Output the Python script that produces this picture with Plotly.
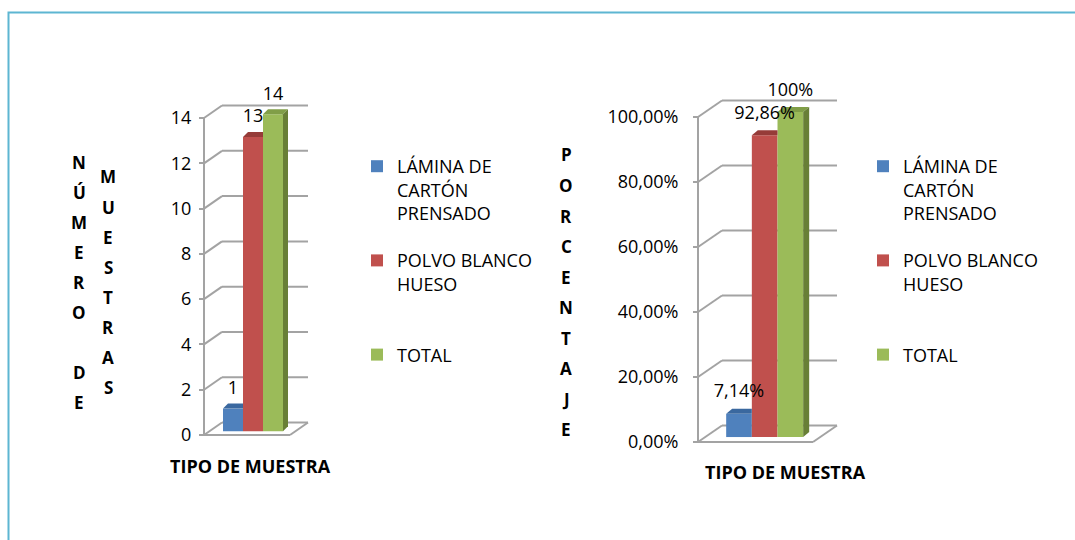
import plotly.graph_objects as go

# ---------------- data ----------------
CATEGORIES = ["LÁMINA DE CARTÓN PRENSADO", "POLVO BLANCO HUESO", "TOTAL"]
LEGEND_NAMES = ["LÁMINA DE<br>CARTÓN<br>PRENSADO", "POLVO BLANCO<br>HUESO<br> ", "TOTAL"]
COUNTS = [1, 13, 14]
PERCENTS = [0.0714, 0.9286, 1.0]
COUNT_TICKS = [0, 2, 4, 6, 8, 10, 12, 14]
PERCENT_TICKS = [0.0, 0.2, 0.4, 0.6, 0.8, 1.0]
Y_TITLE_LEFT_A = "NÚMERO DE"
Y_TITLE_LEFT_B = "MUESTRAS"
Y_TITLE_RIGHT = "PORCENTAJE"
X_TITLE = "TIPO DE MUESTRA"

# ---------------- style ----------------
W, H = 1075, 540
FONT = "Open Sans"
FRONT = ["#4F81BD", "#C0504D", "#9BBB59"]
TOP = ["#3A689F", "#963B38", "#809E47"]
SIDE = ["#35587F", "#7E302E", "#687F36"]
GRID = "#A3A3A3"

fig = go.Figure()
shapes = []
annotations = []


def px2x(p):
    return p / W


def px2y(p):
    return 1 - p / H


def build(suffix, values, ticks, legend_id, x0, sx, y0, sy, axis_px, end_px,
          depth_px, topoff_px, xdom_px, ydom_px, tickformat, texttemplate,
          lab_px, standoff):
    xa = "x" + suffix
    ya = "y" + suffix
    ddx = depth_px[0] / sx
    ddy = depth_px[1] / sy
    base = 0.3 * ddy
    tdx = topoff_px[0] / sx
    tdy = topoff_px[1] / sy
    lab = lab_px / sy
    ax = (axis_px - x0) / sx
    ex = (end_px - x0) / sx
    n = len(values)

    # 3D walls / gridlines (behind bars)
    def seg(xa0, ya0, xa1, ya1):
        shapes.append(dict(type="line", xref=xa, yref=ya, x0=xa0, y0=ya0,
                           x1=xa1, y1=ya1, layer="below",
                           line=dict(color=GRID, width=2)))
    for t in ticks:
        seg(ax, t, ax + ddx, t + ddy)
        seg(ax + ddx, t + ddy, ex + ddx, t + ddy)
    seg(ax, ticks[0], ax, ticks[-1])
    seg(ax, ticks[0], ex, ticks[0])
    seg(ex, ticks[0], ex + ddx, ticks[0] + ddy)

    # bars (front faces)
    for i, v in enumerate(values):
        fig.add_trace(go.Bar(
            x=[i], y=[v], base=[base], width=1, name=LEGEND_NAMES[i],
            marker=dict(color=FRONT[i], line=dict(width=0)),
            xaxis=xa, yaxis=ya, legend=legend_id, legendgroup=suffix + str(i),
            hovertemplate=CATEGORIES[i] + ": %{y}<extra></extra>"))

    # top and side faces
    for i, v in enumerate(values):
        top = base + v
        nxt_taller = i + 1 < n and values[i + 1] >= v
        right = i + 0.5 if nxt_taller else i + 0.5 + tdx
        fig.add_trace(go.Scatter(
            x=[i - 0.5, i - 0.5 + tdx, right, i + 0.5, i - 0.5],
            y=[top, top + tdy, top + tdy, top, top],
            fill="toself", fillcolor=TOP[i], mode="lines",
            line=dict(width=0, color=TOP[i]), showlegend=False,
            hoverinfo="skip", xaxis=xa, yaxis=ya))
        if not nxt_taller:
            fig.add_trace(go.Scatter(
                x=[i + 0.5, i + 0.5, i + 0.5 + tdx, i + 0.5 + tdx, i + 0.5],
                y=[base, top, top + tdy, base + tdy, base],
                fill="toself", fillcolor=SIDE[i], mode="lines",
                line=dict(width=0, color=SIDE[i]), showlegend=False,
                hoverinfo="skip", xaxis=xa, yaxis=ya))

    # data labels
    fig.add_trace(go.Scatter(
        x=list(range(n)), y=[base + v + tdy + lab for v in values],
        mode="text", text=[texttemplate(v) for v in values],
        textposition="top center",
        textfont=dict(family=FONT, size=18, color="#000"),
        cliponaxis=False, showlegend=False, hoverinfo="skip",
        xaxis=xa, yaxis=ya))

    xr = [(xdom_px[0] - x0) / sx, (xdom_px[1] - x0) / sx]
    yr = [(y0 - ydom_px[1]) / sy, (y0 - ydom_px[0]) / sy]
    xkey = "xaxis" + suffix
    ykey = "yaxis" + suffix
    fig.layout[xkey] = dict(domain=[px2x(xdom_px[0]), px2x(xdom_px[1])],
                            range=xr, visible=False, anchor=ya)
    fig.layout[ykey] = dict(domain=[px2y(ydom_px[1]), px2y(ydom_px[0])],
                            range=yr, anchor="free", position=px2x(axis_px),
                            tickvals=ticks, tickformat=tickformat,
                            ticks="outside", ticklen=5, tickwidth=2,
                            tickcolor=GRID, ticklabelstandoff=standoff,
                            showgrid=False, zeroline=False, showline=False,
                            tickfont=dict(family=FONT, size=18, color="#000"))


build("", COUNTS, COUNT_TICKS, "legend", 233, 20, 435, 22.64, 204, 290,
      (18, 12.5), (5, 5), (150, 345), (60, 470), "d", lambda v: f"{v}", 5, 4)
build("2", PERCENTS, PERCENT_TICKS, "legend2", 739, 25.67, 442, 325, 698, 813,
      (24, 16.5), (6, 5), (640, 870), (60, 470), ".2%",
      lambda v: (f"{v*100:.2f}".rstrip("0").rstrip(".") + "%").replace(".", ","),
      7, 11)


def letters(text, xp, ytop, step):
    for k, ch in enumerate(text):
        if ch.strip():
            annotations.append(dict(
                x=px2x(xp), y=px2y(ytop + k * step), xref="paper", yref="paper",
                text=ch, showarrow=False, xanchor="center", yanchor="middle",
                font=dict(family=FONT, size=17, color="#000", weight="bold")))


letters(Y_TITLE_LEFT_A, 79, 162, 30.1)
letters(Y_TITLE_LEFT_B, 108, 177, 30.1)
letters(Y_TITLE_RIGHT, 566, 155, 30.5)

for xc, yc in [(250, 466), (785, 472)]:
    annotations.append(dict(
        x=px2x(xc), y=px2y(yc), xref="paper", yref="paper", text=X_TITLE,
        showarrow=False, xanchor="center", yanchor="middle",
        font=dict(family=FONT, size=18, color="#000", weight="bold")))

# outer frame
shapes.append(dict(type="rect", xref="paper", yref="paper",
                   x0=px2x(8.5), y0=px2y(12.5), x1=1.05, y1=-0.05,
                   line=dict(color="#5DB6D2", width=2), layer="below"))

leg_common = dict(font=dict(family=FONT, size=18, color="#000"),
                  bgcolor="rgba(0,0,0,0)", valign="top", traceorder="grouped",
                  tracegroupgap=21, xanchor="left", yanchor="top",
                  itemclick=False, itemdoubleclick=False)

fig.update_layout(
    width=W, height=H, margin=dict(l=0, r=0, t=0, b=0),
    paper_bgcolor="white", plot_bgcolor="white",
    barmode="overlay", separators=",.",
    shapes=shapes, annotations=annotations,
    legend=dict(x=px2x(357), y=px2y(148), **leg_common),
    legend2=dict(x=px2x(863), y=px2y(148), **leg_common),
    font=dict(family=FONT),
)

fig.write_html("out.html", config={"displayModeBar": False},
               post_script="document.body.style.margin='0';"
                           "document.body.style.overflow='hidden';")
